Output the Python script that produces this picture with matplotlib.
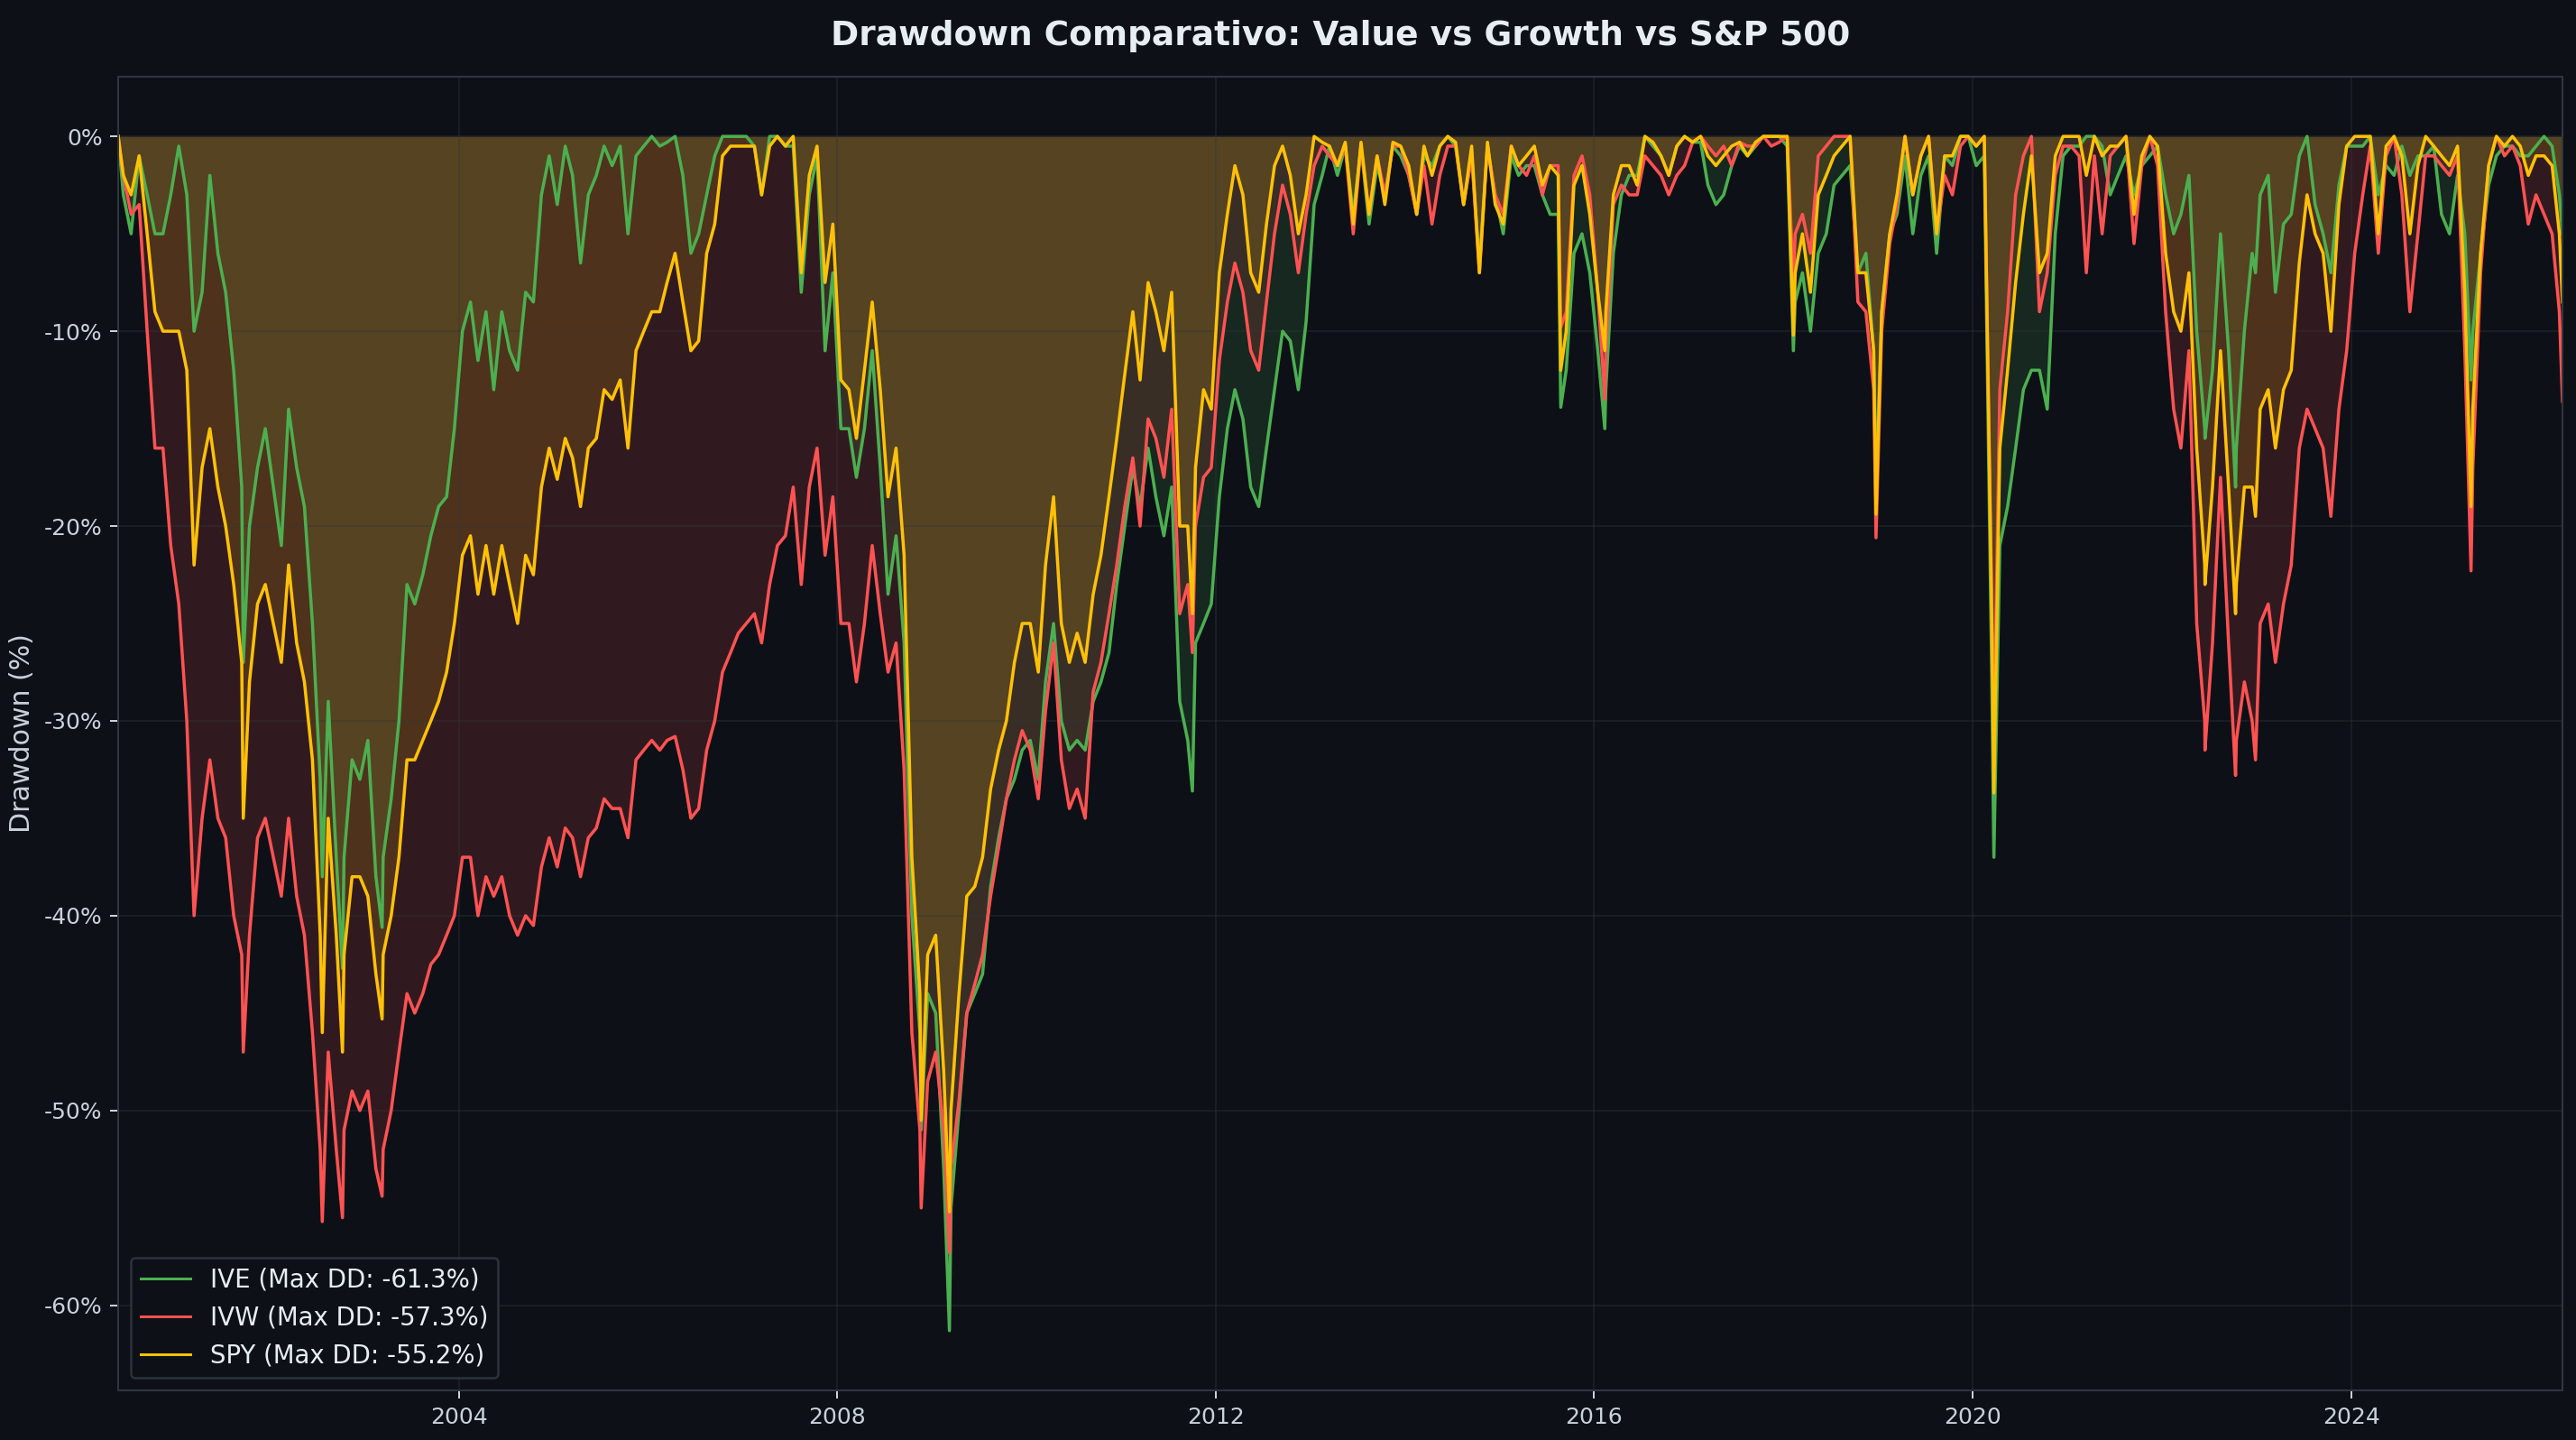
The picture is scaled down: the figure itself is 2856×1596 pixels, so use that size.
import numpy as np
import pandas as pd
import matplotlib
matplotlib.use('Agg')
import matplotlib.pyplot as plt
import matplotlib.dates as mdates
from matplotlib.ticker import FuncFormatter, MultipleLocator

# mid-month readings, Jun 2000 .. Mar 2026 (drawdown in %)
months = pd.date_range('2000-06-01', '2026-03-01', freq='MS') + pd.Timedelta(days=14)

ive_monthly = [
    -3, -5, -1, -3, -5, -5, -3,                                        # 2000
    -0.5, -3, -10, -8, -2, -6, -8, -12, -18, -20, -17, -15,            # 2001
    -18, -21, -14, -17, -19, -25, -33, -29, -37, -37, -32, -33,        # 2002
    -31, -38, -37, -34, -30, -23, -24, -22.5, -20.5, -19, -18.5, -15,  # 2003
    -10, -8.5, -11.5, -9, -13, -9, -11, -12, -8, -8.5, -3, -1,         # 2004
    -3.5, -0.5, -2, -6.5, -3, -2, -0.5, -1.5, -0.5, -5, -1, -0.5,      # 2005
    0, -0.5, -0.3, 0, -2, -6, -5, -3, -1, 0, 0, 0,                     # 2006
    0, -0.5, -3, 0, 0, -0.5, -0.5, -8, -3, -1, -11, -7,                # 2007
    -15, -15, -17.5, -15, -11, -17, -23.5, -20.5, -26, -40, -46, -44,  # 2008
    -45, -53, -55, -50, -45, -44, -43, -38.5, -36, -34, -33, -31.5,    # 2009
    -31, -33, -28, -25, -30, -31.5, -31, -31.5, -29, -28, -26.5, -23,  # 2010
    -20, -17, -19, -16, -18.5, -20.5, -18, -29, -31, -26, -25, -24,    # 2011
    -18.5, -15, -13, -14.5, -18, -19, -16, -13, -10, -10.5, -13, -9.5, # 2012
    -3.5, -2, -0.5, -2, -0.5, -4, -0.5, -4.5, -1.5, -3, -0.5, -1,      # 2013
    -2, -4, -1, -1.5, -0.5, 0, -0.5, -3.5, -1, -6.5, -0.5, -3,         # 2014
    -5, -1, -2, -1.5, -1.5, -3, -4, -4, -12, -6, -5, -7,               # 2015
    -11, -13, -6, -3, -2, -2, 0, -0.5, -1, -2, -0.5, 0,                # 2016
    -0.3, -0.3, -2.5, -3.5, -3, -1.5, -0.5, -1, -0.5, 0, 0, 0,         # 2017
    -0.5, -8.5, -7, -10, -6, -5, -2.5, -2, -1.5, -7, -6, -11,          # 2018
    -9, -5, -4, -1, -5, -2, -1, -6, -1, -1.5, 0, 0,                    # 2019
    -1.5, -1, -28, -21, -19, -16, -13, -12, -12, -14, -5, -1,          # 2020
    -0.5, -0.5, 0, 0, -0.5, -3, -2, -1, -3, -1.5, -1, -0.5,            # 2021
    -3, -5, -4, -2, -10, -15, -12, -5, -11, -16, -10, -6,              # 2022
    -3, -2, -8, -4.5, -4, -1, 0, -3.5, -5, -7, -2.5, -0.5,             # 2023
    -0.5, -0.5, 0, -3, -1.5, -2, -0.5, -2, -1, -1, -0.5, -4,           # 2024
    -5, -2, -5, -10, -6, -2.5, -1, -0.5, -0.5, -1, -1, -0.5,           # 2025
    0, -0.5, -3,                                                       # 2026
]

ivw_monthly = [
    -2, -4, -3.5, -10, -16, -16, -21,
    -24, -30, -40, -35, -32, -35, -36, -40, -42, -41, -36, -35,
    -37, -39, -35, -39, -41, -46, -52, -47, -52, -51, -49, -50,
    -49, -53, -52, -50, -47, -44, -45, -44, -42.5, -42, -41, -40,
    -37, -37, -40, -38, -39, -38, -40, -41, -40, -40.5, -37.5, -36,
    -37.5, -35.5, -36, -38, -36, -35.5, -34, -34.5, -34.5, -36, -32, -31.5,
    -31, -31.5, -31, -30.8, -32.5, -35, -34.5, -31.5, -30, -27.5, -26.5, -25.5,
    -25, -24.5, -26, -23, -21, -20.5, -18, -23, -18, -16, -21.5, -18.5,
    -25, -25, -28, -25, -21, -24.5, -27.5, -26, -32.5, -46, -51, -48.5,
    -47, -51, -53, -49.5, -45, -43.5, -42, -39, -36.5, -34, -32, -30.5,
    -31.5, -34, -29.5, -26, -32, -34.5, -33.5, -35, -28.5, -27, -24.5, -22,
    -19, -16.5, -20, -14.5, -15.5, -17.5, -14, -24.5, -23, -20, -17.5, -17,
    -11.5, -8.5, -6.5, -8, -11, -12, -8.5, -5, -2.5, -4, -7, -4,
    -1.5, -0.5, -1, -1.5, -0.5, -5, -0.5, -4, -1, -3, -0.5, -0.5,
    -2, -4, -1.5, -4.5, -2, -0.5, -0.5, -3.5, -1, -7, -0.5, -3,
    -4, -0.5, -1.5, -2, -1, -3, -1.5, -1.5, -9, -2, -1, -3,
    -8, -11, -3.5, -2.5, -3, -3, -1, -1.5, -2, -3, -2, -1.5,
    -0.3, 0, -0.5, -1, -0.5, -1.5, -0.3, -0.5, -0.5, 0, -0.5, -0.3,
    0, -5, -4, -6, -1, -0.5, 0, 0, 0, -8.5, -9, -13,
    -10, -5.5, -3.5, 0, -3, -1, 0, -5, -2, -3, -0.5, 0,
    -0.5, 0, -24, -13, -9, -3, -1, 0, -9, -7, -2, -0.5,
    -0.5, -1, -7, -1, -5, -1, -0.5, 0, -5.5, -1.5, 0, -1.5,
    -9, -14, -16, -11, -25, -30, -26, -17.5, -26, -31, -28, -30,
    -25, -24, -27, -24, -22, -16, -14, -15, -16, -19.5, -14, -11,
    -6, -3, -0.5, -6, -1, 0, -3, -9, -5, -1, -1, -1.5,
    -2, -1, -11, -17, -7, -1.5, 0, -1, -0.5, -1.5, -4.5, -3,
    -4, -5, -9,
]

spy_monthly = [
    -2, -3, -1, -5, -9, -10, -10,
    -10, -12, -22, -17, -15, -18, -20, -23, -27, -28, -24, -23,
    -25, -27, -22, -26, -28, -32, -41, -35, -41, -42, -38, -38,
    -39, -43, -42, -40, -37, -32, -32, -31, -30, -29, -27.5, -25,
    -21.5, -20.5, -23.5, -21, -23.5, -21, -23, -25, -21.5, -22.5, -18, -16,
    -17.6, -15.5, -16.5, -19, -16, -15.5, -13, -13.5, -12.5, -16, -11, -10,
    -9, -9, -7.5, -6, -8.5, -11, -10.5, -6, -4.5, -1, -0.5, -0.5,
    -0.5, -0.5, -3, -0.5, 0, -0.5, 0, -7, -2, -0.5, -7.5, -4.5,
    -12.5, -13, -15.5, -12, -8.5, -13, -18.5, -16, -21.5, -37, -44, -42,
    -41, -48, -50, -44, -39, -38.5, -37, -33.5, -31.5, -30, -27, -25,
    -25, -27.5, -22, -18.5, -25, -27, -25.5, -27, -23.5, -21.5, -18.5, -15.5,
    -12.2, -9, -12.5, -7.5, -9, -11, -8, -20, -20, -17, -13, -14,
    -7, -4, -1.5, -3, -7, -8, -4.5, -1.5, -0.5, -2, -5, -3,
    0, -0.3, -0.5, -1.5, -0.3, -4.5, -0.3, -4, -1, -3.5, -0.3, -0.5,
    -1.5, -4, -0.5, -2, -0.5, 0, -0.3, -3.5, -0.5, -7, -0.3, -3.5,
    -4.5, -0.5, -1.5, -1, -0.5, -2.5, -1.5, -2, -10, -2.5, -1.5, -4,
    -8, -9, -3, -1.5, -1.5, -2.5, 0, -0.3, -1, -2, -0.5, 0,
    -0.3, 0, -1, -1.5, -1, -0.5, -0.3, -1, -0.3, 0, 0, 0,
    0, -7, -5, -8, -3, -2, -1, -0.5, 0, -7, -7, -11,
    -9, -5, -3, 0, -3, -1, 0, -5, -1, -1, 0, 0,
    -0.5, 0, -25, -16, -12, -7.5, -4, -1, -7, -6, -1, 0,
    0, 0, -2, 0, -1, -0.5, -0.5, 0, -4, -1, 0, -0.5,
    -6, -9, -10, -7, -16, -22, -18, -11, -18, -23, -18, -18,
    -14, -13, -16, -13, -12, -6.5, -3, -5, -6, -10, -3.5, -0.5,
    0, 0, 0, -5, -0.5, 0, -1, -5, -1.5, 0, -0.5, -1,
    -1.5, -0.5, -8, -14, -6, -1.5, 0, -0.5, 0, -0.5, -2, -1,
    -1, -1.5, -5,
]

# start, end and the troughs
event_dates = ['2000-05-26', '2001-09-21', '2002-07-23', '2002-10-09', '2003-03-11',
               '2008-11-20', '2009-03-09', '2011-10-03', '2015-08-25', '2016-02-11',
               '2018-02-08', '2018-12-24', '2020-03-23', '2022-06-16', '2022-10-12',
               '2022-12-28', '2025-04-08', '2026-03-27']
ive_events = [0, -27, -38, -42.7, -40.6, -51, -61.3, -33.6, -13.9, -15,
              -11, -18, -37, -15.5, -18, -7, -12.5, -5]
ivw_events = [0, -47, -55.7, -55.5, -54.4, -55, -57.3, -26.5, -9.8, -13.5,
              -7.5, -20.6, -31, -31.5, -32.8, -32, -22.3, -13.6]
spy_events = [0, -35, -46, -47, -45.3, -50.5, -55.2, -24.5, -12, -11,
              -10.2, -19.4, -33.7, -23, -24.5, -19.5, -19, -8.5]

tickers = ['IVE', 'IVW', 'SPY']
colors = ['#4CAF50', '#FF5252', '#FFC107']

BG = '#0d1117'
GRID = '#30363d'
TXT = '#c9d1d9'

df = pd.concat([
    pd.DataFrame({'IVE': ive_monthly, 'IVW': ivw_monthly, 'SPY': spy_monthly}, index=months),
    pd.DataFrame({'IVE': ive_events, 'IVW': ivw_events, 'SPY': spy_events},
                 index=pd.to_datetime(event_dates)),
]).sort_index()

W, H, DPI = 2856, 1596, 180
fig = plt.figure(figsize=(W / DPI, H / DPI), dpi=DPI, facecolor=BG)
ax = fig.add_axes([131 / W, 1 - 1541 / H, (2841 - 131) / W, (1541 - 85) / H])
ax.set_facecolor(BG)

for t, c in zip(tickers, colors):
    dd = df[t]
    ax.fill_between(df.index, dd, 0, color=c, alpha=0.15, linewidth=0)
    ax.plot(df.index, dd, color=c, linewidth=1.4,
            label=f'{t} (Max DD: {dd.min():.1f}%)')

ax.set_xlim(df.index[0], df.index[-1])
ax.xaxis.set_major_locator(mdates.YearLocator(4))
ax.xaxis.set_major_formatter(mdates.DateFormatter('%Y'))
ax.yaxis.set_major_locator(MultipleLocator(10))
ax.yaxis.set_major_formatter(FuncFormatter(lambda v, _: f'{int(round(v))}%'))

ax.grid(True, color=GRID, alpha=0.35, linewidth=0.8)
for s in ax.spines.values():
    s.set_color(GRID)
ax.tick_params(colors=TXT, labelsize=10)

ax.set_title('Drawdown Comparativo: Value vs Growth vs S&P 500',
             fontsize=15, fontweight='bold', color='#e6edf3', pad=14)
ax.set_ylabel('Drawdown (%)', fontsize=12, color=TXT)

leg = ax.legend(loc='lower left', fontsize=11, facecolor=BG, edgecolor=GRID,
                labelcolor='#e6edf3', framealpha=0.9)
for line in leg.get_lines():
    line.set_linewidth(1.2)

fig.savefig('out.png', dpi=DPI, facecolor=BG)
